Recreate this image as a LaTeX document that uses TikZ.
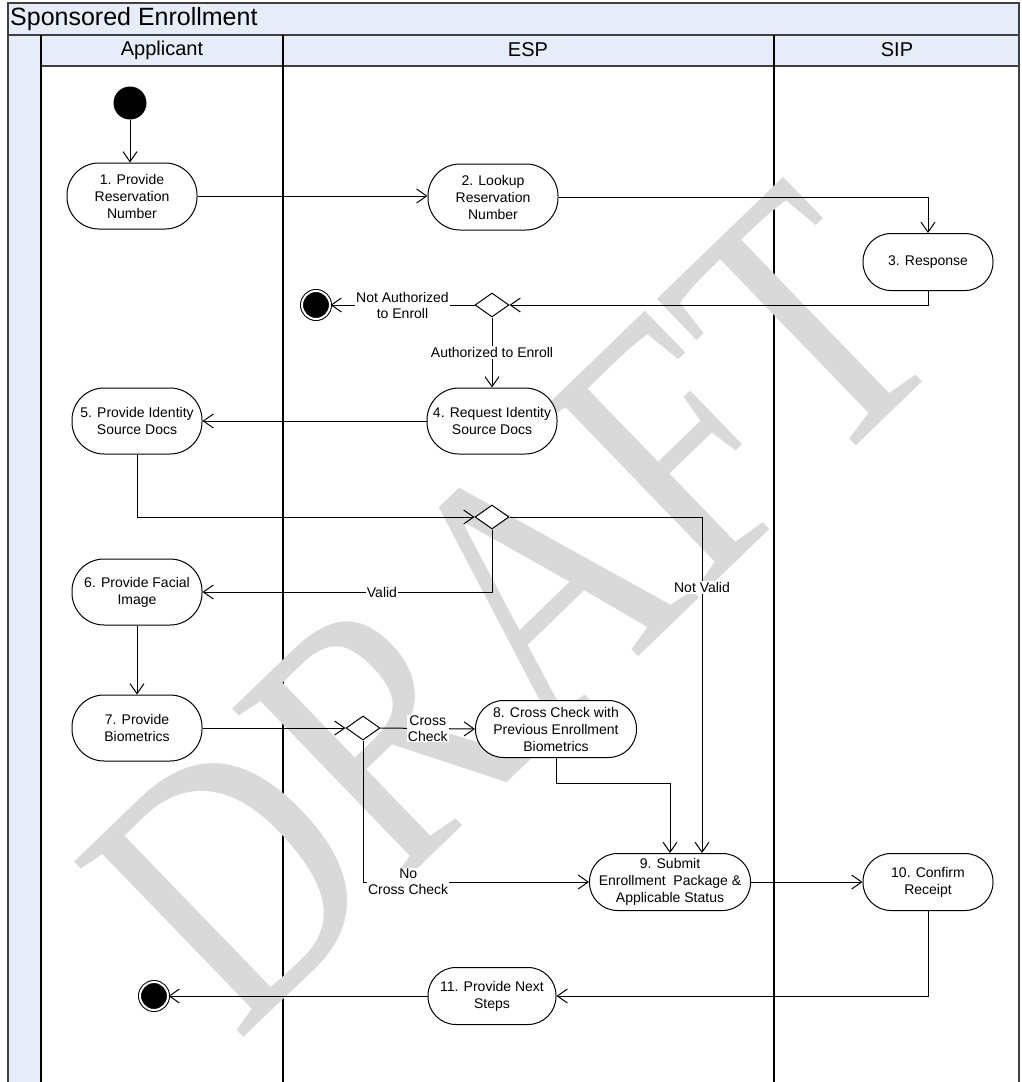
\documentclass[tikz,border=0pt]{standalone}
\usepackage{fontspec}
\setmainfont{Liberation Sans}
\newfontfamily\wmfont{Liberation Serif}
\usetikzlibrary{arrows.meta,shapes.geometric,calc}
\definecolor{laneblue}{HTML}{E6EDF8}
\definecolor{frameline}{HTML}{404040}
\begin{document}
\begin{tikzpicture}[x=1pt,y=-1pt,
  act/.style={draw, line width=1pt, fill=white, rectangle, align=center, inner sep=0pt,
    minimum width=130pt, minimum height=66pt, rounded corners=32pt,
    font=\fontsize{14}{17}\selectfont},
  actlow/.style={act, minimum height=57pt, rounded corners=28pt},
  actwide/.style={actlow, minimum width=161pt},
  dec/.style={diamond, draw, line width=1pt, fill=white, inner sep=0pt,
    minimum width=34pt, minimum height=24pt, shape aspect=1.4},
  startnode/.style={circle, fill=black, minimum size=33pt, inner sep=0pt},
  endnode/.style={circle, draw=black, line width=1pt, double=white, double distance=2pt,
    fill=black, minimum size=28pt, inner sep=0pt},
  flow/.style={line width=1pt, -{Straight Barb[length=10pt,width=14pt,line width=1pt]}},
  lbl/.style={fill=white, inner sep=1pt, align=center, font=\fontsize{14}{16}\selectfont},
  lanehead/.style={font=\fontsize{20}{22}\selectfont},
]
\useasboundingbox (0,0) rectangle (1021,1082);

% pool frame, title bar and lane headers
\fill[laneblue] (8,3) rectangle (1019,35);
\fill[laneblue] (8,35) rectangle (41,1082);
\fill[laneblue] (41,35) rectangle (1019,66);
\draw[frameline, line width=1.2pt] (8,1082) -- (8,3) -- (1019,3) -- (1019,1082);
\draw[frameline, line width=1.2pt] (8,35) -- (1019,35);
\draw[frameline, line width=1.2pt] (41,66) -- (1019,66);
\draw[black, line width=1.2pt] (41,35) -- (41,1082);
\draw[black, line width=1.2pt] (283,35) -- (283,1082);
\draw[black, line width=1.2pt] (774,35) -- (774,1082);
\node[anchor=west, font=\fontsize{25}{27}\selectfont, inner sep=0pt] (title) at (10,19) {Sponsored Enrollment};
\node[lanehead] (laneA) at (162,50) {Applicant};
\node[lanehead] (laneE) at (528,50) {ESP};
\node[lanehead] (laneS) at (897,50) {SIP};

% watermark
\node[rotate=44, yscale=1.22, text=black!15, inner sep=0pt,
  font=\wmfont\fontsize{305}{305}\selectfont] (wm) at (512,608) {DRAFT};

% activities
\node[startnode] (start) at (130,103) {};
\node[act] (n1) at (132,196) {1. Provide\\Reservation\\Number};
\node[act] (n2) at (493,197) {2. Lookup\\Reservation\\Number};
\node[actlow] (n3) at (928,262) {3. Response};
\node[dec] (d1) at (492,305) {};
\node[endnode] (end1) at (316,305) {};
\node[act] (n4) at (492,421) {4. Request Identity\\Source Docs};
\node[act] (n5) at (137,421) {5. Provide Identity\\Source Docs};
\node[dec] (d2) at (492,517) {};
\node[act] (n6) at (137,592) {6. Provide Facial\\Image};
\node[act] (n7) at (137,728) {7. Provide\\Biometrics};
\node[dec] (d3) at (363,728) {};
\node[actwide] (n8) at (556,729) {8. Cross Check with\\Previous Enrollment\\Biometrics};
\node[actwide] (n9) at (670,882) {9. Submit\\Enrollment\ \ Package \&\\Applicable Status};
\node[actlow] (n10) at (928,882) {10. Confirm\\Receipt};
\node[actlow, minimum width=128pt] (n11) at (492,996) {11. Provide Next\\Steps};
\node[endnode] (end2) at (154,996) {};

% control flow
\draw[flow] (start) -- (start |- n1.north);
\draw[flow] (n1.east) -- (n2.west |- n1.east);
\draw[flow] (n2.east) -| (n3.north);
\draw[flow] (n3.south) |- (d1.east);
\draw[flow] (d1.west) -- node[lbl] {Not Authorized\\to Enroll} (end1);
\draw[flow] (d1.south) -- node[lbl] {Authorized to Enroll} (n4.north);
\draw[flow] (n4.west) -- (n5.east);
\draw[flow] (n5.south) |- (d2.west);
\draw[flow] (d2.south) |- node[lbl, pos=0.69] {Valid} (n6.east);
\draw[flow] (d2.east) -| node[lbl, pos=0.605] {Not Valid} ([xshift=32pt]n9.north);
\draw[flow] (n6.south) -- (n7.north);
\draw[flow] (n7.east) -- (d3.west);
\draw[flow] (d3.east) -- node[lbl] {Cross\\Check} (n8.west);
\draw[flow] (d3.south) |- node[lbl, pos=0.6] {No\\Cross Check} (n9.west);
\draw[flow] (n8.south) -- ++(0,25) -| (n9.north);
\draw[flow] (n9.east) -- (n10.west);
\draw[flow] (n10.south) |- (n11.east);
\draw[flow] (n11.west) -- (end2);
\end{tikzpicture}
\end{document}
